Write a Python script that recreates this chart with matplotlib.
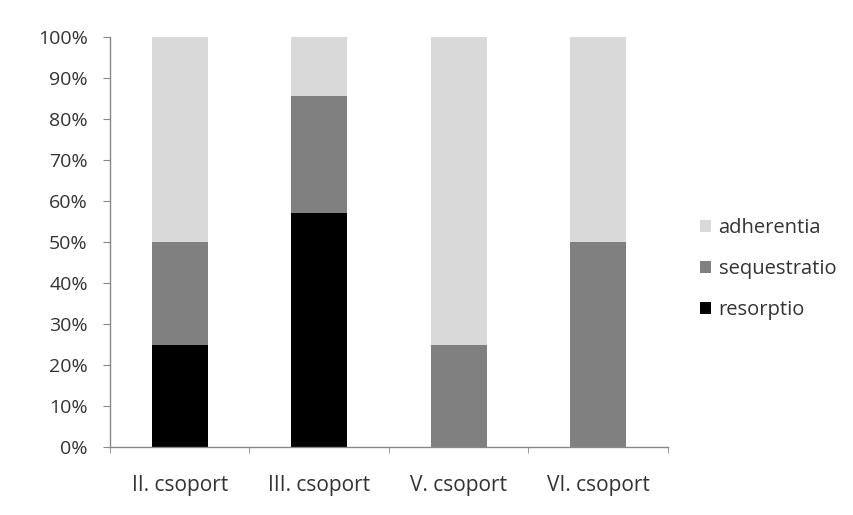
import matplotlib
matplotlib.use("Agg")
import matplotlib.pyplot as plt
import numpy as np
from matplotlib.ticker import FixedLocator, PercentFormatter

groups = ["II. csoport", "III. csoport", "V. csoport", "VI. csoport"]
resorptio = [25.0, 57.1, 0.0, 0.0]
sequestratio = [25.0, 28.6, 25.0, 50.0]
adherentia = [50.0, 14.3, 75.0, 50.0]

plt.rcParams['font.family'] = ['Open Sans', 'DejaVu Sans']

fig = plt.figure(figsize=(8.54, 5.15), dpi=100)
ax = fig.add_axes([0.1288, 0.132, 0.6534, 0.796])

x = np.arange(len(groups))
w = 0.4
res = np.array(resorptio)
seq = np.array(sequestratio)
adh = np.array(adherentia)
ax.bar(x, res, w, color='#000000', label='resorptio')
ax.bar(x, seq, w, bottom=res, color='#808080', label='sequestratio')
ax.bar(x, adh, w, bottom=res + seq, color='#d9d9d9', label='adherentia')

ax.set_xlim(-0.5, len(groups) - 0.5)
ax.set_ylim(0, 100)
ax.set_yticks(np.arange(0, 101, 10))
ax.yaxis.set_major_formatter(PercentFormatter(decimals=0))
ax.set_xticks(x)
ax.set_xticklabels(groups)
ax.xaxis.set_minor_locator(FixedLocator(np.arange(-0.5, len(groups), 1.0)))
ax.tick_params(axis='x', which='major', length=0, pad=20, labelsize=15, labelcolor='#333333')
ax.tick_params(axis='x', which='minor', length=4, color='#888888', direction='out')
ax.tick_params(axis='y', length=5, color='#888888', labelsize=14, labelcolor='#333333', pad=11)

for s in ['top', 'right']:
    ax.spines[s].set_visible(False)
for s in ['left', 'bottom']:
    ax.spines[s].set_color('#888888')
    ax.spines[s].set_linewidth(1)

handles, labels = ax.get_legend_handles_labels()
ax.legend(handles[::-1], labels[::-1], loc='center left', bbox_to_anchor=(1.04, 0.434),
          frameon=False, fontsize=14.5, labelcolor='#333333', handlelength=0.55,
          handleheight=0.55, handletextpad=0.35, labelspacing=1.05, borderpad=0)

fig.savefig('out.png', dpi=100)
